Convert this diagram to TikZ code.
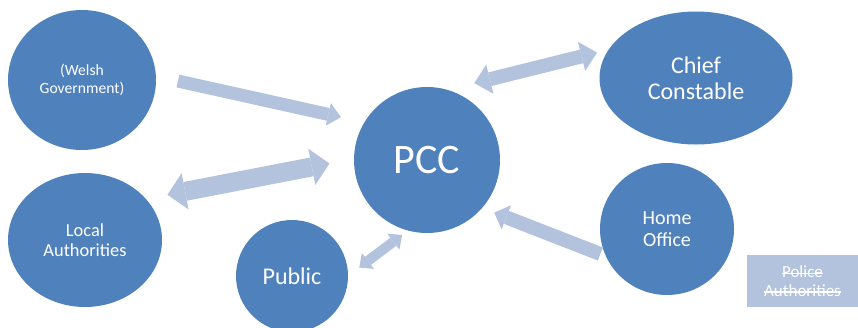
\documentclass[tikz,border=0pt]{standalone}
\usepackage{fontspec}
\setmainfont{Carlito}
\usepackage{tikz}
\usetikzlibrary{arrows.meta,shapes.geometric}
\newlength\strkwd
\newcommand\strk[1]{\settowidth{\strkwd}{#1}\rlap{#1}\rule[0.2em]{\strkwd}{1.2pt}}
\definecolor{bodyblue}{RGB}{79,129,189}
\definecolor{linkblue}{RGB}{179,195,221}
\tikzstyle{body}=[
  ellipse,
  fill=bodyblue,
  text=white,
  inner sep=0pt,
  outer sep=0pt,
  align=center,
]
\tikzstyle{link}=[
  draw=linkblue,
  line cap=butt,
]
\tikzset{
  x=1pt,
  y=-1pt,
}

\begin{document}
\begin{tikzpicture}
      \useasboundingbox (0,0) rectangle (858,327);
      \clip (0,0) rectangle (858,327);
      \node (welsh) [body, minimum width=148pt, minimum height=140pt, font=\fontsize{15.6}{17.6}\selectfont] at (82,80) {(Welsh\\Government)};
      \node (pcc) [body, minimum width=146pt, minimum height=146pt, font=\fontsize{42}{48}\selectfont] at (427,160) {PCC};
      \node (chief) [body, minimum width=193pt, minimum height=133pt, font=\fontsize{24}{26}\selectfont] at (696,78) {Chief\\Constable};
      \node (local) [body, minimum width=154pt, minimum height=134pt, font=\fontsize{18.4}{20}\selectfont] at (85,240) {Local\\Authorities};
      \node (public) [body, minimum width=112pt, minimum height=112pt, font=\fontsize{24}{26}\selectfont] at (292,276) {Public};
      \node (home) [body, minimum width=134pt, minimum height=132pt, font=\fontsize{20}{22}\selectfont] at (667,229) {Home\\Office};
      \node (police) [rectangle, fill=linkblue, text=white, align=center, minimum width=111pt, minimum height=52pt, inner sep=0pt, font=\fontsize{17}{18.5}\selectfont] at (802.5,281) {\strk{Police}\\\strk{Authorities}};
      \draw [link, line width=13pt, -{Triangle[width=23pt,length=13pt,line width=0pt]}, shorten <=22.6pt, shorten >=24pt] (welsh.3) -- (pcc.149);
      \draw [link, line width=19pt, {Triangle[width=37pt,length=18pt,line width=0pt]}-{Triangle[width=37pt,length=18pt,line width=0pt]}, shorten <=22pt, shorten >=25pt] (local.34) -- (pcc.179);
      \draw [link, line width=10pt, {Triangle[width=20pt,length=11pt,line width=0pt]}-{Triangle[width=20pt,length=11pt,line width=0pt]}, shorten <=14pt, shorten >=7.5pt] (public.0) -- (pcc.255);
      \draw [link, line width=14pt, -{Triangle[width=26pt,length=13pt,line width=0pt]}, shorten <=6pt, shorten >=13pt] (home.204) -- (pcc.319);
      \draw [link, line width=14pt, {Triangle[width=30pt,length=16pt,line width=0pt]}-{Triangle[width=30pt,length=16pt,line width=0pt]}, shorten <=28pt, shorten >=12pt] (pcc.74) -- (chief.162);
    \end{tikzpicture}
\end{document}
